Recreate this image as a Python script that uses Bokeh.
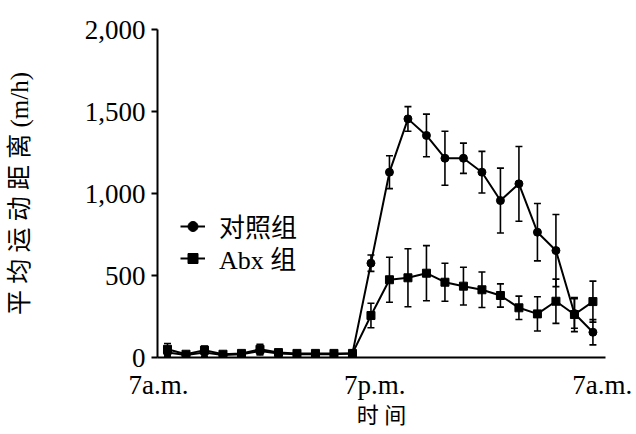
from bokeh.plotting import figure
from bokeh.models import (ColumnDataSource, Whisker, TeeHead, Legend, LegendItem,
                          FixedTicker, NumeralTickFormatter, Range1d)
from bokeh.embed import file_html
from bokeh.resources import INLINE

# hourly samples from 7 a.m. to 7 a.m. next day
hours = list(range(24))
control = [30, 15, 30, 15, 20, 40, 25, 20, 20, 20, 25, 575, 1130, 1455, 1354, 1215,
           1215, 1130, 957, 1059, 764, 652, 268, 154]
control_err = [25, 10, 25, 10, 10, 25, 10, 10, 10, 10, 10, 50, 100, 75, 130, 165,
               92, 127, 198, 228, 175, 220, 90, 77]
abx = [50, 20, 45, 20, 25, 50, 30, 25, 25, 25, 25, 256, 474, 486, 514, 459,
       435, 413, 378, 303, 266, 343, 262, 341]
abx_err = [35, 10, 25, 10, 10, 30, 10, 10, 10, 10, 10, 75, 137, 177, 168, 116,
           115, 108, 71, 71, 104, 135, 104, 125]

x_tick_pos = [-0.49, 11.2, 23.5]
x_tick_labels = ["7a.m.", "7p.m.", "7a.m."]
y_ticks = [0, 500, 1000, 1500, 2000]

SERIF = "'Liberation Serif', 'Noto Sans CJK SC'"

src_c = ColumnDataSource(dict(
    x=hours, y=control,
    upper=[v + e for v, e in zip(control, control_err)],
    lower=[max(v - e, 0) for v, e in zip(control, control_err)]))
src_a = ColumnDataSource(dict(
    x=hours, y=abx,
    upper=[v + e for v, e in zip(abx, abx_err)],
    lower=[max(v - e, 0) for v, e in zip(abx, abx_err)]))

p = figure(width=636, height=434, output_backend="svg", toolbar_location=None,
           x_range=Range1d(-0.54, 23.68), y_range=Range1d(0, 2000),
           min_border_left=157, min_border_right=31, min_border_top=29,
           min_border_bottom=77)
p.outline_line_color = None
p.grid.grid_line_color = None
p.background_fill_color = "white"
p.border_fill_color = "white"

for src in (src_c, src_a):
    w = Whisker(source=src, base="x", upper="upper", lower="lower",
                dimension="height", line_color="black", line_width=1.6,
                upper_head=TeeHead(size=7, line_color="black", line_width=1.6),
                lower_head=TeeHead(size=7, line_color="black", line_width=1.6))
    p.add_layout(w)

lc = p.line("x", "y", source=src_c, line_color="black", line_width=2)
sc = p.scatter("x", "y", source=src_c, marker="circle", size=8,
               fill_color="black", line_color="black")
la = p.line("x", "y", source=src_a, line_color="black", line_width=2)
sa = p.scatter("x", "y", source=src_a, marker="square", size=8,
               fill_color="black", line_color="black")

# y axis
ya = p.yaxis[0]
ya.ticker = FixedTicker(ticks=y_ticks)
ya.formatter = NumeralTickFormatter(format="0,0")
ya.minor_tick_line_color = None
ya.major_tick_out = 6
ya.major_tick_in = 0
ya.major_tick_line_width = 2
ya.axis_line_width = 2
ya.axis_line_color = "black"
ya.major_label_text_font = SERIF
ya.major_label_text_font_size = "27px"
ya.major_label_text_color = "black"
ya.major_label_standoff = 6
ya.axis_label = "平 均 运 动 距 离 (m/h)"
ya.axis_label_text_font = SERIF
ya.axis_label_text_font_size = "25px"
ya.axis_label_text_font_style = "normal"
ya.axis_label_text_color = "black"
ya.axis_label_standoff = 49

# x axis
xa = p.xaxis[0]
xa.ticker = FixedTicker(ticks=x_tick_pos)
xa.major_label_overrides = {t: s for t, s in zip(x_tick_pos, x_tick_labels)}
xa.minor_tick_line_color = None
xa.major_tick_line_color = None
xa.major_tick_out = 0
xa.major_tick_in = 0
xa.axis_line_width = 2
xa.axis_line_color = "black"
xa.major_label_text_font = SERIF
xa.major_label_text_font_size = "27px"
xa.major_label_text_color = "black"
xa.major_label_standoff = 12
xa.axis_label = "时 间"
xa.axis_label_text_font = SERIF
xa.axis_label_text_font_size = "22px"
xa.axis_label_text_font_style = "normal"
xa.axis_label_text_color = "black"
xa.axis_label_standoff = 0

# one legend box per series so the two rows can sit close together
legend_style = dict(orientation="vertical", glyph_width=25, glyph_height=30,
                    label_height=30, label_standoff=14, spacing=0, padding=0,
                    margin=0, border_line_alpha=0, background_fill_alpha=0,
                    label_text_font=SERIF, label_text_font_size="26px",
                    label_text_color="black")
leg_c = Legend(items=[LegendItem(label="对照组", renderers=[lc, sc])],
               location=(23, 113), **legend_style)
leg_a = Legend(items=[LegendItem(label="Abx 组", renderers=[la, sa])],
               location=(23, 81), **legend_style)
p.add_layout(leg_c, "center")
p.add_layout(leg_a, "center")

open("out.html", "w").write(file_html(p, INLINE))
